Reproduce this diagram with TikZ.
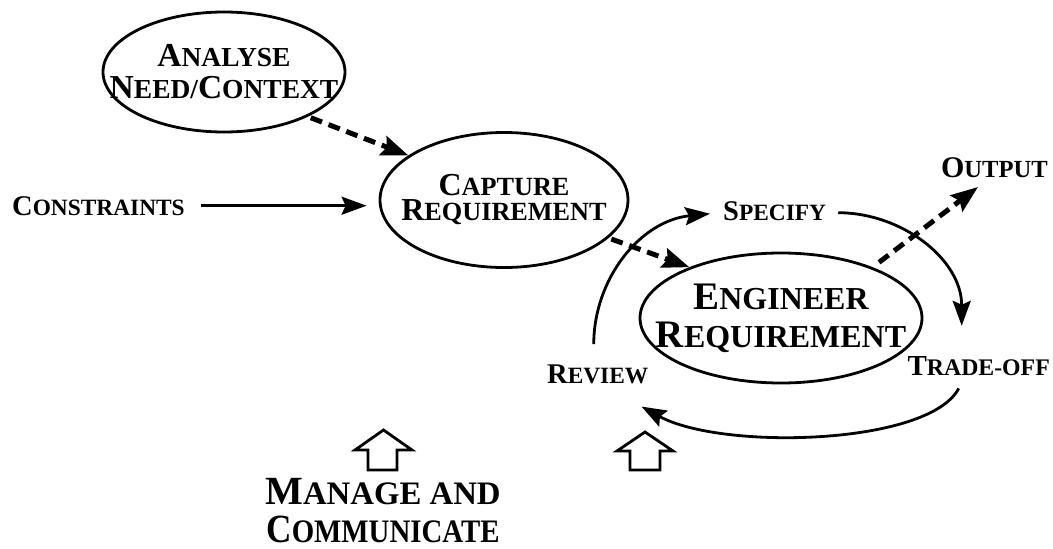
\documentclass[tikz,border=0pt]{standalone}
\usepackage{fontspec}
\setmainfont{Liberation Serif}
\usetikzlibrary{arrows.meta,shapes.geometric,calc}

% small capitals: full-size initial, reduced capitals after it
\newcommand\Cap[2]{#1\scalebox{0.82}{#2}}
% zero-width centred line, so the ellipse keeps its own size
\newcommand\mk[1]{\makebox[0pt]{#1}}
\newcommand\fs[2]{\fontsize{#1}{#2}\selectfont}

\begin{document}
\begin{tikzpicture}[x=1pt,y=-1pt,
  every node/.style={inner sep=0pt, font=\bfseries},
  proc/.style={draw, ellipse, line width=2.8pt, align=center},
  flow/.style={line width=2.8pt, -{Stealth[length=25pt,width=18pt,inset=4pt]}},
  dflow/.style={line width=5pt, dash pattern=on 12pt off 7pt,
                -{Stealth[length=27pt,width=20pt,inset=4pt]}},
  hollow/.style={draw, line width=2.8pt, line join=miter}]
\useasboundingbox (0,0) rectangle (1053,549);

% processes
\node[proc, minimum width=242, minimum height=120, font=\bfseries\fs{33.5}{32}]
  (analyse) at (224,72) {\mk{\Cap{A}{NALYSE}}\\\mk{\Cap{N}{EED/}\Cap{C}{ONTEXT}}};
\node[proc, minimum width=248, minimum height=135, font=\bfseries\fs{32}{25}]
  (capture) at (504,200) {\mk{\Cap{C}{APTURE}}\\\mk{\Cap{R}{EQUIREMENT}}};
\node[proc, minimum width=282, minimum height=130, font=\bfseries\fs{39}{38}]
  (engineer) at (781,318) {\mk{\Cap{E}{NGINEER}}\\\mk{\Cap{R}{EQUIREMENT}}};

% labels
\node[anchor=base west, font=\bfseries\fs{28.5}{30}] (constraints) at (12,215) {\Cap{C}{ONSTRAINTS}};
\node[anchor=base west, font=\bfseries\fs{28.5}{30}] (specify) at (723,220) {\Cap{S}{PECIFY}};
\node[anchor=base east, font=\bfseries\fs{30}{30}] (output) at (1048,177) {\Cap{O}{UTPUT}};
\node[anchor=base east, font=\bfseries\fs{29}{29}] (tradeoff) at (1050,375) {\Cap{T}{RADE-OFF}};
\node[anchor=base west, font=\bfseries\fs{28.5}{29}] (review) at (547,383) {\Cap{R}{EVIEW}};
\node[align=center, font=\bfseries\fs{40}{37.5}] (manage) at (383,510.5)
  {\Cap{M}{ANAGE AND}\\\scalebox{0.88}[1]{\Cap{C}{OMMUNICATE}}};

\coordinate (outtip) at (978,187);

% main flow
\draw[dflow, shorten <=3pt] (analyse.-28) -- (capture.155);
\draw[dflow, shorten <=3pt] (capture.-20) -- (engineer.151);
\draw[dflow, shorten <=8pt] (engineer.29) -- (outtip);
\draw[flow, shorten <=16pt, shorten >=12pt] (constraints.east) -- (constraints.east -| capture.west);

% review / specify / trade-off cycle
\draw[flow] ($(review.north)+(-4,-20)$) .. controls +(0,-65) and +(-70,7) .. ($(specify.west)+(-13,3)$);
\draw[flow] ($(specify.east)+(12,2)$) .. controls +(63,0) and +(0,-67) .. ($(tradeoff.north)+(-17,-30)$);
\draw[flow] ($(tradeoff.south)+(-20,13)$) .. controls +(-30,57) and +(80,44) .. ($(review.south east)+(-7,23)$);

% management inputs
\draw[hollow] (368,470) -- (368,450) -- (355,450) -- (383.5,430) -- (412,450)
  -- (397,450) -- (397,470) -- cycle;
\draw[hollow] (630,470) -- (630,451) -- (617,451) -- (645,432) -- (673,451)
  -- (660,451) -- (660,470) -- cycle;
\end{tikzpicture}
\end{document}
